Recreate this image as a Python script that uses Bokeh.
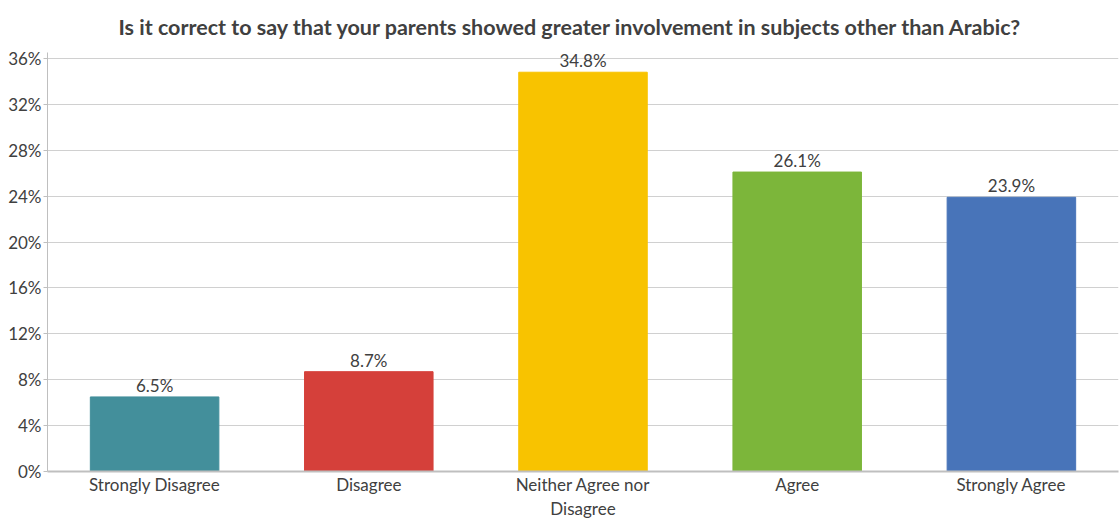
from bokeh.plotting import figure
from bokeh.models import ColumnDataSource, FixedTicker, NumeralTickFormatter, Range1d, LinearAxis
from bokeh.core.properties import value
from bokeh.embed import file_html
from bokeh.resources import INLINE

categories = ["Strongly Disagree", "Disagree", "Neither Agree nor Disagree", "Agree", "Strongly Agree"]
shares = [0.065, 0.087, 0.348, 0.261, 0.239]
labels = ["6.5%", "8.7%", "34.8%", "26.1%", "23.9%"]
colors = ["#438f9b", "#d5403a", "#f8c300", "#7cb63a", "#4874b9"]
y_ticks = [0, 0.04, 0.08, 0.12, 0.16, 0.20, 0.24, 0.28, 0.32, 0.36]

FONT = "Lato"
TXT = "#404040"

xpos = [i + 0.5 for i in range(len(categories))]
src = ColumnDataSource(dict(x=xpos, cat=categories, v=shares, lab=labels, col=colors))

p = figure(x_range=Range1d(0, len(categories)), y_range=Range1d(0, 0.3652), width=1120, height=521,
           output_backend="svg", toolbar_location=None,
           title="Is it correct to say that your parents showed greater involvement in subjects other than Arabic?",
           min_border_left=47, min_border_right=2, min_border_bottom=50, min_border_top=52)

p.title.align = "left"
p.title.vertical_align = "top"
p.title.text_font = FONT
p.title.text_font_size = "21.5px"
p.title.text_font_style = "bold"
p.title.text_color = TXT
p.title.offset = 71
p.title.standoff = 22

p.vbar(x="x", top="v", width=0.6, source=src, fill_color="col", line_color="col", line_width=1)
p.text(x="x", y="v", text="lab", source=src, text_align="center", text_baseline="bottom",
       y_offset=-1, text_font=value(FONT), text_font_size="17px", text_color=TXT)

p.outline_line_color = None
p.xgrid.grid_line_color = None
p.ygrid.grid_line_color = "#d0d0d0"
p.ygrid.grid_line_width = 1
p.yaxis.ticker = FixedTicker(ticks=y_ticks)
p.yaxis.formatter = NumeralTickFormatter(format="0%")
p.yaxis.axis_line_color = "#bfbfbf"
p.yaxis.major_tick_line_color = "#bfbfbf"
p.yaxis.major_tick_out = 4
p.yaxis.major_tick_in = 0
p.yaxis.minor_tick_line_color = None
p.yaxis.major_label_text_font = FONT
p.yaxis.major_label_text_font_size = "17px"
p.yaxis.major_label_text_color = TXT
p.yaxis.major_label_standoff = 2

p.xaxis.ticker = FixedTicker(ticks=xpos)
overrides = {x: c for x, c in zip(xpos, categories)}
overrides[xpos[2]] = "Neither Agree nor"
p.xaxis.major_label_overrides = overrides
p.xaxis.axis_line_color = "#bfbfbf"
p.xaxis.axis_line_width = 2
p.xaxis.major_tick_line_color = None
p.xaxis.major_tick_out = 0
p.xaxis.major_tick_in = 0
p.xaxis.minor_tick_line_color = None
p.xaxis.minor_tick_out = 0
p.xaxis.major_label_text_font = FONT
p.xaxis.major_label_text_font_size = "17px"
p.xaxis.major_label_text_color = TXT
p.xaxis.major_label_standoff = 2

ax2 = LinearAxis(ticker=FixedTicker(ticks=[xpos[2]]),
                 major_label_overrides={xpos[2]: "Disagree"})
ax2.axis_line_color = None
ax2.major_tick_line_color = None
ax2.major_tick_out = 0
ax2.major_tick_in = 0
ax2.minor_tick_line_color = None
ax2.minor_tick_out = 0
ax2.major_label_text_font = FONT
ax2.major_label_text_font_size = "17px"
ax2.major_label_text_color = TXT
ax2.major_label_standoff = 0
p.add_layout(ax2, "below")

open("out.html", "w").write(file_html(p, INLINE))
